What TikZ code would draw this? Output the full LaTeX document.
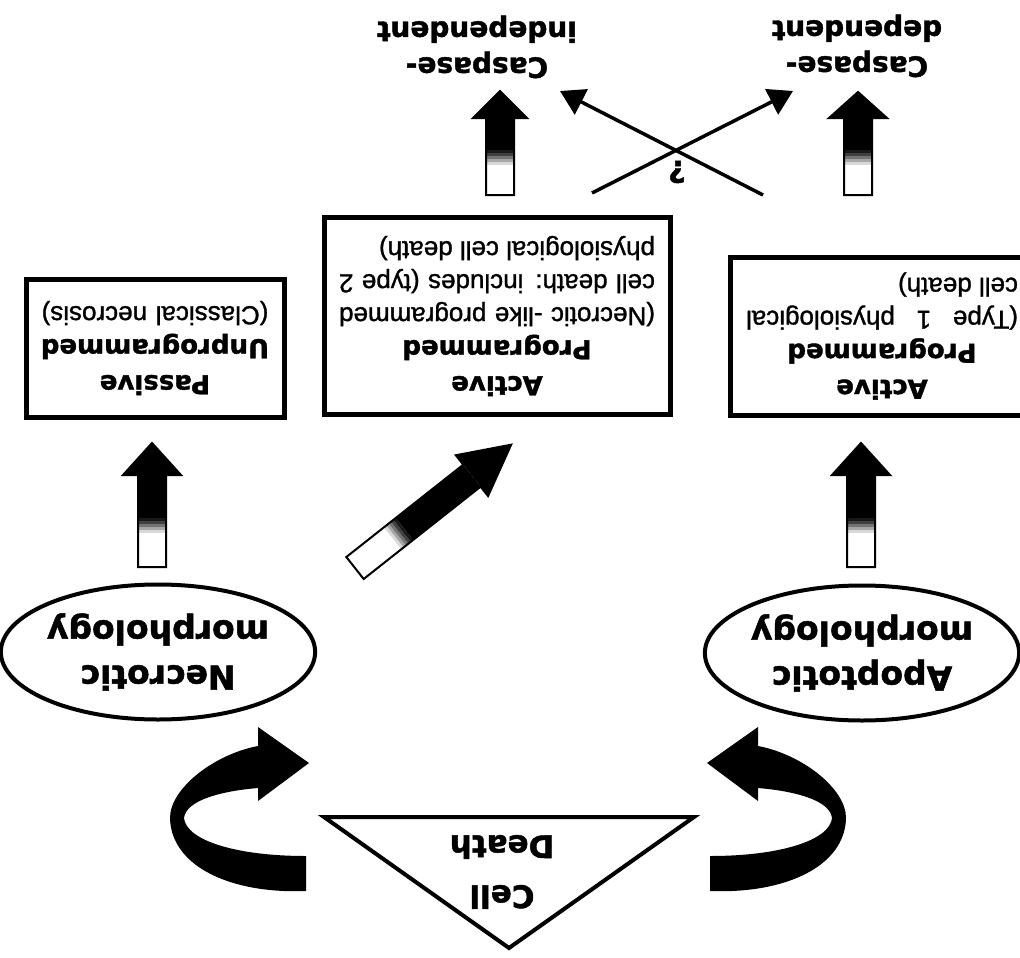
\documentclass[tikz,border=0pt]{standalone}
\usepackage{fontspec}
\setmainfont{Liberation Sans}[FakeBold=1.2]
\newfontfamily\heavyfont{DejaVu Sans}[BoldFeatures={FakeBold=1.5}]
\usetikzlibrary{shapes.geometric,arrows.meta}

\tikzset{
  box/.style={draw, line width=5pt, fill=white, rotate=180, inner ysep=0pt, align=justify,
    font=\fontsize{26}{33}\selectfont},
  morph/.style={draw, ellipse, line width=4pt, fill=white, rotate=180, align=center,
    inner sep=0pt, minimum width=294pt, minimum height=135pt,
    font=\heavyfont\bfseries\fontsize{33}{45}\selectfont},
  heading/.style={rotate=180, align=center, font=\heavyfont\bfseries\fontsize{28}{36}\selectfont},
  cross/.style={line width=3.5pt, -{Triangle[length=24pt, width=28pt]}},
}

% bold centred title lines inside a box
\newcommand{\boxhead}[1]{{\centering\heavyfont\bfseries\fontsize{26}{36}\selectfont #1\par}}

% fat arrow: tail, angle, length, white part, head length, head half width
\newcommand{\fatarrow}[6]{%
  \begin{scope}[shift={#1}, rotate=#2]
    \fill[white] (0,-14) rectangle (#4,14);
    \foreach \g [count=\k] in {15,35,55,75,90}
      \fill[black!\g] ({#4+(\k-1)*3},-14) rectangle ({#4+\k*3},14);
    \fill (#4+15,-14) rectangle (#3-#5,14);
    \fill (#3-#5,-#6) -- (#3,0) -- (#3-#5,#6) -- cycle;
    \draw[line width=2pt, line join=miter] (0,-14) -- (#3-#5,-14) -- (#3-#5,-#6) -- (#3,0)
      -- (#3-#5,#6) -- (#3-#5,14) -- (0,14) -- cycle;
  \end{scope}}

% curled arrow round the triangle
\newcommand{\curlarrow}{%
  \fill (306,-891) .. controls (230,-894) and (171,-866) .. (170,-818)
    .. controls (170,-788) and (215,-754) .. (258,-746)
    -- (258,-727) -- (309,-763) -- (258,-801) -- (258,-788)
    .. controls (222,-791) and (186,-800) .. (184,-818)
    .. controls (186,-840) and (235,-856) .. (306,-856) -- cycle;}

\begin{document}
\begin{tikzpicture}[x=1pt, y=1pt]
  \useasboundingbox (0,0) rectangle (1020,-958);
  \clip (0,0) rectangle (1020,-958);
  \fill[white] (0,0) rectangle (1020,-958);

  % cell death
  \coordinate (tl) at (324,-817);
  \coordinate (tr) at (694,-817);
  \coordinate (tb) at (509,-948);
  \draw[line width=4pt, line join=miter, fill=white] (tl) -- (tr) -- (tb) -- cycle;
  \node[heading, font=\heavyfont\bfseries\fontsize{31}{50}\selectfont] (cell) at (502,-872) {Cell\\Death};

  \curlarrow
  \begin{scope}[xshift=1016pt, xscale=-1]
    \curlarrow
  \end{scope}

  % morphologies
  \node[morph] (necro) at (158,-652) {Necrotic\\morphology};
  \node[morph] (apo) at (862,-653) {Apoptotic\\morphology};

  % kinds of death
  \node[box, align=center, text width=234pt, inner xsep=12pt, minimum height=138pt] (passive) at (155,-348)
    {\boxhead{Passive\\Unprogrammed}(Classical necrosis)};
  \node[box, text width=316pt, inner xsep=15pt, minimum height=197pt] (active2) at (497,-316)
    {\boxhead{Active\\Programmed}(Necrotic -like programmed\linebreak cell death: includes (type 2\linebreak physiological cell death)};
  \node[box, text width=272pt, inner xsep=16pt, minimum height=158pt] (active1) at (882,-336)
    {\boxhead{Active\\Programmed}(Type 1 physiological\linebreak cell death)};

  \node[heading] (casind) at (477,-47) {Caspase-\\independent};
  \node[heading] (casdep) at (857,-46) {Caspase-\\dependent};

  % fat arrows
  \coordinate (n1) at (152,-567);
  \coordinate (n2) at (355,-568);
  \coordinate (a1) at (861,-567);
  \coordinate (p2) at (500,-195);
  \coordinate (p1) at (858,-195);
  \fatarrow{(n1)}{90}{124}{34}{32}{29}
  \fatarrow{(n2)}{38.3}{199}{48}{50}{26}
  \fatarrow{(a1)}{90}{124}{34}{32}{29}
  \fatarrow{(p2)}{90}{104}{30}{27}{27}
  \fatarrow{(p1)}{90}{103}{30}{26}{29}

  % crossing links
  \coordinate (c1) at (592,-193);
  \coordinate (c2) at (763,-195);
  \coordinate (d1) at (793,-91);
  \coordinate (d2) at (560,-91);
  \draw[cross] (c1) -- (d1);
  \draw[cross] (c2) -- (d2);
  \node[heading, font=\heavyfont\bfseries\fontsize{30}{35}\selectfont] (query) at (677,-172) {?};
\end{tikzpicture}
\end{document}
